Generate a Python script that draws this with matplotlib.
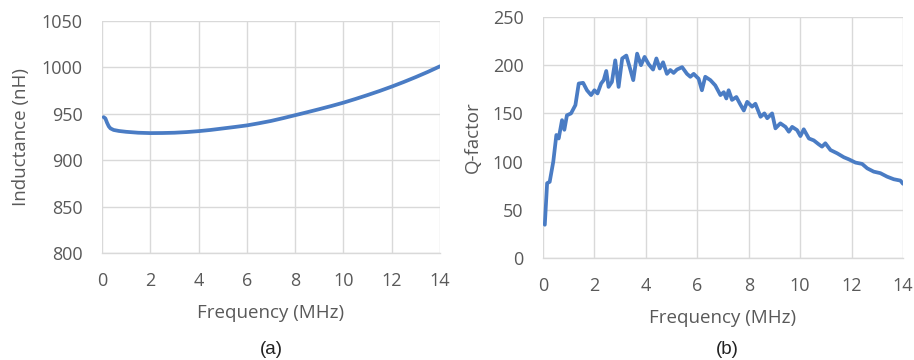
import matplotlib
matplotlib.use("Agg")
import matplotlib.pyplot as plt
import numpy as np

plt.rcParams['font.family'] = ['Open Sans', 'DejaVu Sans']

# (a) Inductance vs frequency
freq_a = [0.07, 0.14, 0.21, 0.28, 0.35, 0.48, 0.7, 1.0, 1.5, 2.0, 2.5, 3.0, 3.5, 4.0, 4.5, 5.0, 5.5, 6.0,
          6.5, 7.0, 7.5, 8.0, 8.5, 9.0, 9.5, 10.0, 10.5, 11.0, 11.5, 12.0, 12.5, 13.0, 13.5, 14.0]
ind_a = [946.4, 945.0, 940.3, 936.5, 934.3, 932.6, 931.5, 930.6, 929.6, 929.2, 929.3, 929.6, 930.3, 931.3,
         932.6, 934.2, 935.8, 937.5, 939.8, 942.3, 945.3, 948.5, 951.7, 955.0, 958.4, 962.0, 966.0,
         970.2, 974.6, 979.3, 984.3, 989.6, 995.2, 1001.2]

# (b) Q-factor vs frequency
freq_b = [0.07, 0.16, 0.26, 0.4, 0.52, 0.61, 0.74, 0.83, 0.93, 1.09, 1.26, 1.39, 1.56, 1.71, 1.87,
          2.0, 2.12, 2.26, 2.36, 2.46, 2.55, 2.68, 2.81, 2.94, 3.08, 3.24, 3.37, 3.51, 3.66, 3.81,
          3.95, 4.11, 4.28, 4.41, 4.54, 4.67, 4.82, 4.95, 5.08, 5.21, 5.41, 5.6, 5.73, 5.86, 6.05,
          6.18, 6.31, 6.51, 6.7, 6.9, 7.03, 7.13, 7.22, 7.35, 7.52, 7.68, 7.81, 7.94, 8.13, 8.26,
          8.46, 8.61, 8.72, 8.91, 9.04, 9.23, 9.43, 9.56, 9.69, 9.88, 10.01, 10.14, 10.34, 10.53,
          10.72, 10.85, 10.98, 11.18, 11.44, 11.7, 11.89, 12.15, 12.41, 12.61, 12.86, 13.12, 13.38,
          13.64, 13.9, 14.0]
q_b = [34.5, 77.6, 79, 100, 127.6, 124, 143, 133, 148, 150, 158.6, 181, 181.7, 174, 169,
       174, 170.7, 181, 184.5, 194, 177.5, 182.7, 205, 177.5, 207, 210, 198, 184.5, 212, 200,
       208.6, 201, 195.5, 207, 196.6, 203, 191, 195, 192, 195.5, 198, 191, 188, 191, 186,
       174, 188, 184.5, 179, 169, 172, 165.5, 174, 164, 167, 159, 153, 162, 157, 160,
       146.5, 150, 145, 150, 134.5, 139.7, 136, 131, 136, 132.7, 126.5, 133.5, 124, 122,
       118, 115.5, 119, 112, 108.6, 104.5, 102.4, 99, 97.6, 93, 89.6, 88, 84.4,
       81.7, 80.3, 77]

x_ticks = [0, 2, 4, 6, 8, 10, 12, 14]
yticks_a = [800, 850, 900, 950, 1000, 1050]
yticks_b = [0, 50, 100, 150, 200, 250]

LINE = '#4a7cc4'
GRID = '#d9d9d9'
TXT = '#595959'

fig = plt.figure(figsize=(9.14, 3.6), dpi=100)
W, H = 914, 360

def make_ax(x0, x1, ytop, ybot):
    return fig.add_axes([x0 / W, 1 - ybot / H, (x1 - x0) / W, (ybot - ytop) / H])

ax1 = make_ax(102, 440, 21, 253)
ax2 = make_ax(543, 903, 17, 258)

for ax, xs, ys, yt, ylab in [(ax1, freq_a, ind_a, yticks_a, 'Inductance (nH)'),
                             (ax2, freq_b, q_b, yticks_b, 'Q-factor')]:
    ax.plot(xs, ys, color=LINE, lw=2.7, solid_joinstyle='round', solid_capstyle='round')
    ax.set_xlim(0, 14)
    ax.set_ylim(yt[0], yt[-1])
    ax.set_xticks(x_ticks)
    ax.set_yticks(yt)
    ax.grid(True, color=GRID, lw=1.0)
    ax.set_axisbelow(True)
    for s in ['top', 'right', 'left']:
        ax.spines[s].set_visible(False)
    ax.spines['bottom'].set_color(GRID)
    ax.spines['bottom'].set_linewidth(1.0)
    ax.tick_params(axis='both', length=0, labelsize=13, labelcolor=TXT)
    ax.tick_params(axis='y', pad=14)
    ax.tick_params(axis='x', pad=14)
    ax.set_xlabel('Frequency (MHz)', fontsize=13.5, color=TXT, labelpad=10)
    ax.set_ylabel(ylab, fontsize=13.5, color=TXT, labelpad=8)

fig.text(271 / W, 1 - 349 / H, '(a)', ha='center', va='center', fontsize=13.5,
         color='#222222', family=['Liberation Sans', 'DejaVu Sans'])
fig.text(727 / W, 1 - 349 / H, '(b)', ha='center', va='center', fontsize=13.5,
         color='#222222', family=['Liberation Sans', 'DejaVu Sans'])

fig.savefig('out.png', dpi=100)
